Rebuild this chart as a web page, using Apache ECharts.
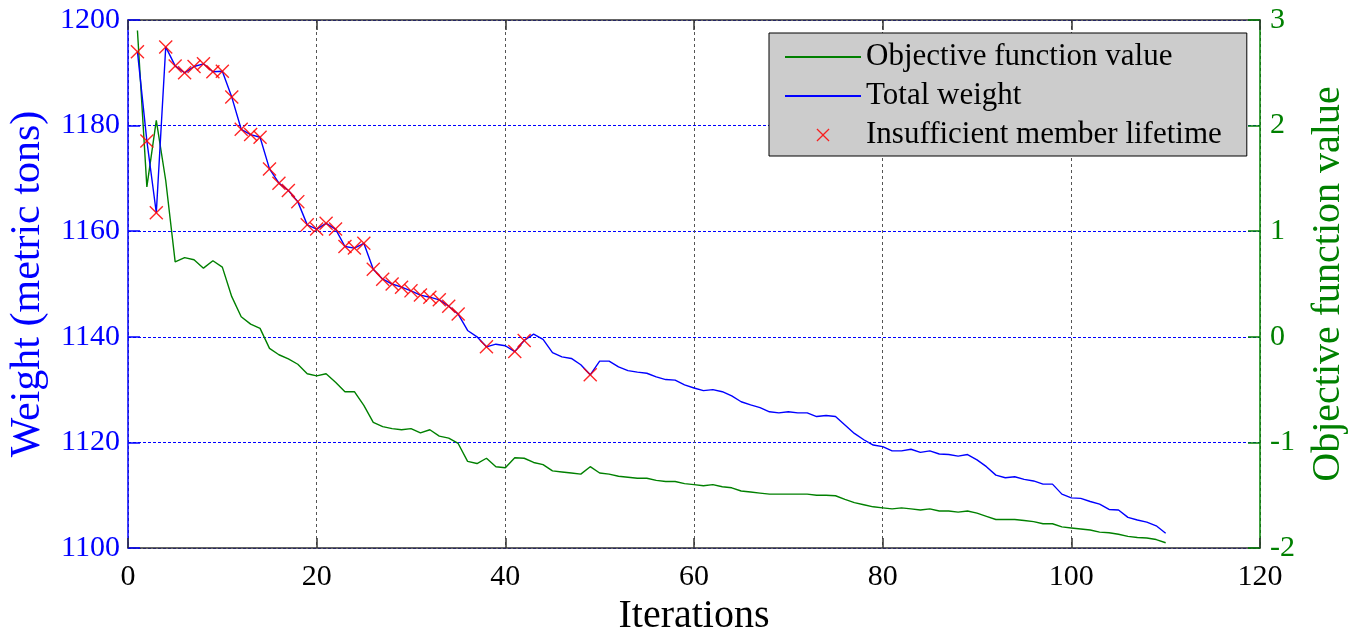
<!DOCTYPE html>
<html>
<head>
<meta charset="utf-8">
<script src="https://cdn.jsdelivr.net/npm/echarts@6/dist/echarts.min.js"></script>
<style>
  html, body { margin: 0; padding: 0; background: #fff; }
  #chart { width: 1358px; height: 635px; }
</style>
</head>
<body>
<div id="chart"></div>
<script>
// ---- data ----
const xTicks = [0, 20, 40, 60, 80, 100, 120];
const weightTicks = [1100, 1120, 1140, 1160, 1180, 1200];
const objectiveTicks = [-2, -1, 0, 1, 2, 3];

// Total weight (metric tons), iterations 1..110
const totalWeight = [
  1194.0, 1177.1, 1163.5, 1194.9, 1191.3, 1190.0, 1191.2, 1191.7, 1190.2, 1190.3,
  1185.4, 1179.3, 1178.3, 1177.8, 1171.8, 1169.1, 1167.7, 1165.6, 1161.2, 1160.4,
  1161.5, 1160.4, 1157.1, 1156.8, 1157.7, 1152.8, 1150.9, 1150.0, 1149.4, 1148.7,
  1147.9, 1147.5, 1147.0, 1145.8, 1144.3, 1141.2, 1140.0, 1138.1, 1138.6, 1138.3,
  1137.2, 1139.3, 1140.5, 1139.5, 1137.0, 1136.2, 1135.9, 1134.7, 1132.8, 1135.4,
  1135.4, 1134.3, 1133.6, 1133.3, 1133.1, 1132.4, 1131.9, 1131.8, 1130.9, 1130.3,
  1129.8, 1130.0, 1129.6, 1128.8, 1127.7, 1127.1, 1126.6, 1125.8, 1125.6, 1125.8,
  1125.6, 1125.6, 1124.9, 1125.1, 1124.9, 1123.3, 1121.7, 1120.5, 1119.5, 1119.2,
  1118.4, 1118.4, 1118.7, 1118.1, 1118.4, 1117.8, 1117.7, 1117.4, 1117.7, 1116.7,
  1115.4, 1113.8, 1113.3, 1113.5, 1113.0, 1112.7, 1112.1, 1112.1, 1110.2, 1109.5,
  1109.4, 1108.8, 1108.3, 1107.3, 1107.2, 1105.8, 1105.3, 1104.9, 1104.2, 1102.8
];

// Objective function value, iterations 1..110
const objectiveValue = [
  2.90, 1.42, 2.05, 1.48, 0.71, 0.75, 0.73, 0.65, 0.72, 0.66,
  0.38, 0.19, 0.12, 0.08, -0.11, -0.17, -0.21, -0.26, -0.35, -0.37,
  -0.35, -0.43, -0.52, -0.52, -0.65, -0.81, -0.85, -0.87, -0.88, -0.87,
  -0.91, -0.88, -0.94, -0.96, -1.01, -1.18, -1.20, -1.15, -1.23, -1.24,
  -1.145, -1.15, -1.19, -1.21, -1.27, -1.28, -1.29, -1.30, -1.23, -1.29,
  -1.30, -1.32, -1.33, -1.34, -1.34, -1.36, -1.37, -1.37, -1.39, -1.40,
  -1.41, -1.40, -1.42, -1.43, -1.46, -1.47, -1.48, -1.49, -1.49, -1.49,
  -1.49, -1.49, -1.50, -1.50, -1.505, -1.54, -1.57, -1.59, -1.61, -1.62,
  -1.63, -1.62, -1.63, -1.64, -1.63, -1.65, -1.65, -1.66, -1.65, -1.67,
  -1.70, -1.73, -1.73, -1.73, -1.74, -1.75, -1.77, -1.77, -1.80, -1.81,
  -1.82, -1.83, -1.85, -1.855, -1.87, -1.89, -1.90, -1.905, -1.92, -1.95
];

// Iterations flagged with insufficient member lifetime
const flaggedIterations = [
  1, 2, 3, 4, 5, 6, 7, 8, 9, 10, 11, 12, 13, 14, 15, 16, 17, 18, 19, 20,
  21, 22, 23, 24, 25, 26, 27, 28, 29, 30, 31, 32, 33, 34, 35, 38, 41, 42, 49
];

const seriesNames = ['Objective function value', 'Total weight', 'Insufficient member lifetime'];

// ---- build ----
const FONT = '"Liberation Serif", "Times New Roman", serif';
const BLUE = '#0000ff', GREEN = '#008000', RED = '#ff0000';
const CROSS = 'path://M0,0.7L0.7,0L5,4.3L9.3,0L10,0.7L5.7,5L10,9.3L9.3,10L5,5.7L0.7,10L0,9.3L4.3,5Z';

const weightData = totalWeight.map((v, i) => [i + 1, v]);
const objectiveData = objectiveValue.map((v, i) => [i + 1, v]);
const flaggedData = flaggedIterations.map(it => [it, totalWeight[it - 1]]);

const plain = v => String(v);

const chart = echarts.init(document.getElementById('chart'));
chart.setOption({
  animation: false,
  backgroundColor: '#ffffff',
  grid: { left: 128, right: 98, top: 20, bottom: 87, containLabel: false, outerBoundsMode: 'none' },
  legend: {
    orient: 'vertical',
    left: 769, top: 33,
    backgroundColor: '#cccccc',
    borderColor: '#000000', borderWidth: 1,
    padding: [7, 25, 4, 15],
    itemGap: 5,
    itemWidth: 76, itemHeight: 13,
    textStyle: { fontFamily: FONT, fontSize: 31, color: '#000', lineHeight: 34 },
    data: [
      { name: seriesNames[0], itemStyle: { opacity: 0 } },
      { name: seriesNames[1], itemStyle: { opacity: 0 } },
      { name: seriesNames[2], icon: CROSS }
    ]
  },
  xAxis: [
    {
      type: 'value', min: xTicks[0], max: xTicks[xTicks.length - 1], interval: 20,
      position: 'bottom',
      name: 'Iterations', nameLocation: 'middle', nameGap: 48,
      nameTextStyle: { fontFamily: FONT, fontSize: 40, color: '#000' },
      axisLine: { show: true, onZero: false, lineStyle: { color: '#333', width: 1.5 } },
      axisTick: { show: true, inside: true, length: 10, lineStyle: { color: '#333', width: 1.5 } },
      axisLabel: { fontFamily: FONT, fontSize: 30, color: '#000', margin: 14, formatter: plain },
      splitLine: { show: true, lineStyle: { color: '#555', width: 1, type: [3, 3] } }
    },
    {
      type: 'value', min: xTicks[0], max: xTicks[xTicks.length - 1], interval: 20,
      position: 'top',
      axisLine: { show: true, onZero: false, lineStyle: { color: '#333', width: 1.5 } },
      axisTick: { show: true, inside: true, length: 10, lineStyle: { color: '#333', width: 1.5 } },
      axisLabel: { show: false },
      splitLine: { show: false }
    }
  ],
  yAxis: [
    {
      type: 'value', min: weightTicks[0], max: weightTicks[weightTicks.length - 1], interval: 20,
      position: 'left',
      name: 'Weight (metric tons)', nameLocation: 'middle', nameRotate: 90, nameGap: 72,
      nameTextStyle: { fontFamily: FONT, fontSize: 42, color: BLUE },
      axisLine: { show: true, onZero: false, lineStyle: { color: BLUE, width: 1.5 } },
      axisTick: { show: true, inside: true, length: 12, lineStyle: { color: BLUE, width: 1.5 } },
      axisLabel: { fontFamily: FONT, fontSize: 30, color: BLUE, margin: 8, formatter: plain },
      splitLine: { show: true, lineStyle: { color: BLUE, width: 1.2, type: [3, 2] } }
    },
    {
      type: 'value', min: objectiveTicks[0], max: objectiveTicks[objectiveTicks.length - 1], interval: 1,
      position: 'right',
      name: 'Objective function value', nameLocation: 'middle', nameRotate: 90, nameGap: 48,
      nameTextStyle: { fontFamily: FONT, fontSize: 40, color: GREEN },
      axisLine: { show: true, onZero: false, lineStyle: { color: GREEN, width: 1.5 } },
      axisTick: { show: true, inside: true, length: 12, lineStyle: { color: GREEN, width: 1.5 } },
      axisLabel: { fontFamily: FONT, fontSize: 30, color: GREEN, margin: 10, formatter: plain },
      splitLine: { show: false }
    }
  ],
  series: [
    {
      name: seriesNames[0], type: 'line', xAxisIndex: 0, yAxisIndex: 1,
      data: objectiveData, symbol: 'none', showSymbol: false, color: GREEN,
      lineStyle: { color: GREEN, width: 1.4 }, z: 3
    },
    {
      name: seriesNames[1], type: 'line', xAxisIndex: 0, yAxisIndex: 0,
      data: weightData, symbol: 'none', showSymbol: false, color: BLUE,
      lineStyle: { color: BLUE, width: 1.4 }, z: 4
    },
    {
      name: seriesNames[2], type: 'scatter', xAxisIndex: 0, yAxisIndex: 0,
      data: flaggedData, symbol: CROSS, symbolSize: 14, color: RED,
      itemStyle: { color: RED, opacity: 0.85 }, z: 5
    }
  ]
});
</script>
</body>
</html>
